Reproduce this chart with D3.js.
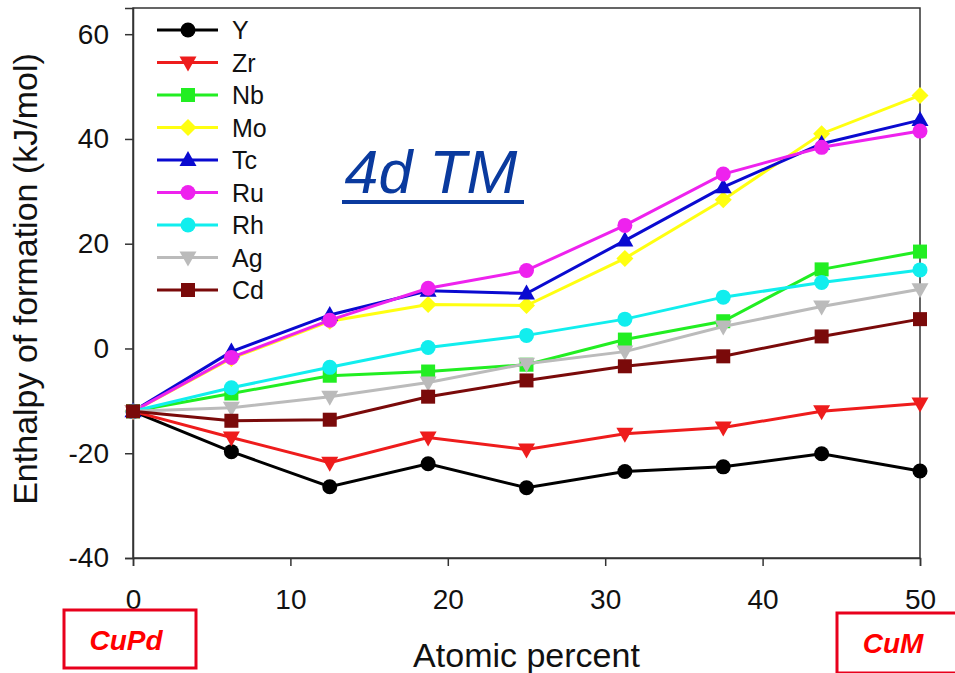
<!DOCTYPE html>
<html>
  <head>
    <meta charset="utf-8" />
    <title>4d TM enthalpy of formation</title>
    <script src="https://d3js.org/d3.v7.min.js"></script>
    <style>
      body { margin: 0; background: #fff; }
      text { font-family: "Liberation Sans", Arial, sans-serif; }
    </style>
  </head>
  <body>
    <svg width="955" height="673"></svg>

    <script>
      // atomic percent of M
      const xVals = [0, 6.25, 12.5, 18.75, 25, 31.25, 37.5, 43.75, 50];
      const xTicks = [0, 10, 20, 30, 40, 50];
      const yTicks = [-40, -20, 0, 20, 40, 60];

      const names = ["Y", "Zr", "Nb", "Mo", "Tc", "Ru", "Rh", "Ag", "Cd"];
      const colors = ["#000000", "#ee1c1c", "#22ee22", "#ffff11", "#0a0ad0", "#ee22ee", "#11eeee", "#bbbbbb", "#7a0a0a"];
      const symbols = ["circle", "triDown", "square", "diamond", "triUp", "circle", "circle", "triDown", "square"];

      // enthalpy of formation (kJ/mol)
      const Y  = [-12, -19.7, -26.4, -22.0, -26.6, -23.5, -22.6, -20.1, -23.4];
      const Zr = [-12, -17.0, -21.8, -17.0, -19.3, -16.3, -15.1, -12.0, -10.5];
      const Nb = [-12, -8.6, -5.2, -4.4, -3.1, 1.7, 5.2, 15.1, 18.5];
      const Mo = [-12, -1.9, 5.2, 8.4, 8.2, 17.2, 28.4, 41.0, 48.3];
      const Tc = [-12, -0.6, 6.4, 11.0, 10.5, 20.6, 30.8, 39.1, 43.6];
      const Ru = [-12, -1.7, 5.4, 11.5, 14.9, 23.5, 33.3, 38.4, 41.5];
      const Rh = [-12, -7.5, -3.6, 0.2, 2.5, 5.6, 9.8, 12.6, 15.0];
      const Ag = [-12, -11.3, -9.2, -6.5, -2.9, -0.6, 4.2, 8.0, 11.3];
      const Cd = [-12, -13.8, -13.6, -9.2, -6.1, -3.4, -1.5, 2.3, 5.6];
      const seriesVals = [Y, Zr, Nb, Mo, Tc, Ru, Rh, Ag, Cd];

      const svg = d3.select("svg");
      const plotL = 133, plotR = 920, plotT = 8, plotB = 558;

      const x = d3.scaleLinear().domain([0, 50]).range([plotL, plotR]);
      const y = d3.scaleLinear().domain([-40, 65]).range([plotB, plotT]);

      // frame
      svg.append("rect")
        .attr("x", plotL).attr("y", plotT)
        .attr("width", plotR - plotL).attr("height", plotB - plotT)
        .attr("fill", "none").attr("stroke", "#333").attr("stroke-width", 1.5);

      const xAxis = svg.append("g")
        .attr("transform", `translate(0,${plotB})`)
        .call(d3.axisBottom(x).tickValues(xTicks).tickSize(8).tickPadding(23));
      const yAxis = svg.append("g")
        .attr("transform", `translate(${plotL},0)`)
        .call(d3.axisLeft(y).tickValues(yTicks).tickSize(8).tickPadding(16));
      [xAxis, yAxis].forEach(a => {
        a.select(".domain").attr("stroke", "#333").attr("stroke-width", 1.5);
        a.selectAll(".tick line").attr("stroke", "#333").attr("stroke-width", 1.5);
        a.selectAll(".tick text")
          .style("font-family", "Liberation Sans, Arial, sans-serif")
          .style("font-size", "28px").attr("fill", "#111");
      });
      xAxis.selectAll(".tick text").attr("dy", "0.71em");
      yAxis.selectAll(".tick text").text(d => d < 0 ? "-" + Math.abs(d) : d);

      // axis titles
      svg.append("text")
        .attr("x", x(25)).attr("y", 667)
        .attr("text-anchor", "middle")
        .style("font-size", "34px").attr("fill", "#111")
        .text("Atomic percent");
      svg.append("text")
        .attr("transform", `translate(37,279) rotate(-90)`)
        .attr("text-anchor", "middle")
        .style("font-size", "34px").attr("fill", "#111")
        .text("Enthalpy of formation (kJ/mol)");

      // marker drawing
      function marker(g, type, cx, cy, color) {
        if (type === "circle") {
          g.append("circle").attr("cx", cx).attr("cy", cy).attr("r", 7.5).attr("fill", color);
        } else if (type === "square") {
          g.append("rect").attr("x", cx - 7).attr("y", cy - 7).attr("width", 14).attr("height", 14).attr("fill", color);
        } else if (type === "diamond") {
          g.append("path").attr("d", `M${cx},${cy - 8.5}L${cx + 8.5},${cy}L${cx},${cy + 8.5}L${cx - 8.5},${cy}Z`).attr("fill", color);
        } else if (type === "triUp") {
          g.append("path").attr("d", `M${cx},${cy - 9}L${cx + 8.5},${cy + 6}L${cx - 8.5},${cy + 6}Z`).attr("fill", color);
        } else if (type === "triDown") {
          g.append("path").attr("d", `M${cx},${cy + 9}L${cx + 8.5},${cy - 6}L${cx - 8.5},${cy - 6}Z`).attr("fill", color);
        }
      }

      const line = d3.line().x((d, i) => x(xVals[i])).y(d => y(d));

      // draw series (last drawn on top, as in the reference)
      seriesVals.forEach((vals, k) => {
        const g = svg.append("g");
        g.append("path")
          .attr("d", line(vals))
          .attr("fill", "none")
          .attr("stroke", colors[k])
          .attr("stroke-width", 3);
        vals.forEach((v, i) => marker(g, symbols[k], x(xVals[i]), y(v), colors[k]));
      });

      // legend
      const legend = svg.append("g");
      names.forEach((n, k) => {
        const ly = 30 + k * 32.5;
        legend.append("line")
          .attr("x1", 157).attr("x2", 218).attr("y1", ly).attr("y2", ly)
          .attr("stroke", colors[k]).attr("stroke-width", 3);
        marker(legend, symbols[k], 188, ly, colors[k]);
        legend.append("text")
          .attr("x", 232).attr("y", ly + 9)
          .style("font-size", "25px").attr("fill", "#111")
          .text(n);
      });

      // 4d TM label, underline drawn as a bar
      svg.append("text")
        .attr("x", 431).attr("y", 193)
        .attr("text-anchor", "middle")
        .style("font-size", "61px").style("font-style", "italic")
        .attr("fill", "#0a3a9e")
        .text("4d TM");
      svg.append("rect")
        .attr("x", 342).attr("y", 200).attr("width", 182).attr("height", 4)
        .attr("fill", "#0a3a9e");

      // end-member boxes
      const boxes = [
        { label: "CuPd", x0: 64, y0: 610, w: 132, h: 58, tx: 126, ty: 650 },
        { label: "CuM", x0: 837, y0: 613, w: 130, h: 60, tx: 893, ty: 653 }
      ];
      boxes.forEach(b => {
        svg.append("rect")
          .attr("x", b.x0).attr("y", b.y0).attr("width", b.w).attr("height", b.h)
          .attr("fill", "#fff").attr("stroke", "#e8001c").attr("stroke-width", 3);
        svg.append("text").attr("x", b.tx).attr("y", b.ty)
          .attr("text-anchor", "middle")
          .style("font-size", "28px").style("font-weight", "bold").style("font-style", "italic")
          .attr("fill", "#ff0000").text(b.label);
      });
    </script>
  </body>
</html>
